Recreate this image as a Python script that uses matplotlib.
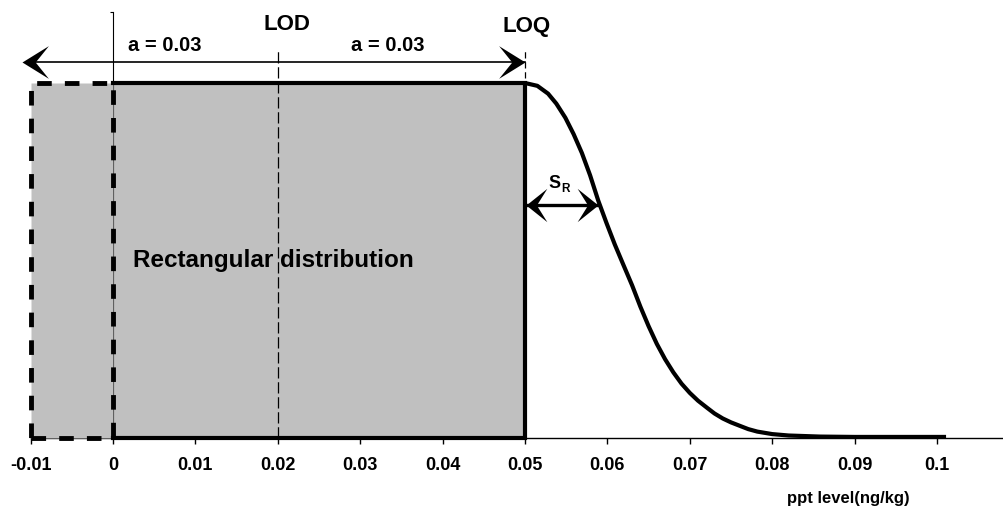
import matplotlib
matplotlib.use("Agg")
import matplotlib.pyplot as plt
from matplotlib.path import Path
from matplotlib.patches import Rectangle

# ---------------- data ----------------
x_ticks = [-0.01, 0.0, 0.01, 0.02, 0.03, 0.04, 0.05, 0.06, 0.07, 0.08, 0.09, 0.1]
x_tick_labels = ["-0.01", "0", "0.01", "0.02", "0.03", "0.04", "0.05",
                 "0.06", "0.07", "0.08", "0.09", "0.1"]
lod = 0.02          # limit of detection
a = 0.03            # half-width of rectangular distribution
loq = lod + a       # limit of quantification (0.05)
rect_height = 1.0

# decreasing curve beyond LOQ
curve_x = [0.0500, 0.0515, 0.0528, 0.0538, 0.0549, 0.0559, 0.0569, 0.0579,
           0.0589, 0.0599, 0.0609, 0.0619, 0.0630, 0.0640, 0.0650, 0.0660,
           0.0670, 0.0680, 0.0690, 0.0700, 0.0710, 0.0721, 0.0730, 0.0740,
           0.0750, 0.0761, 0.0771, 0.0782, 0.0800, 0.0820, 0.0858, 0.0900,
           0.0950, 0.1011]
curve_y = [1.000, 0.992, 0.970, 0.942, 0.902, 0.856, 0.803, 0.740,
           0.668, 0.605, 0.545, 0.490, 0.430, 0.370, 0.315, 0.265,
           0.222, 0.185, 0.153, 0.127, 0.105, 0.085, 0.069, 0.055,
           0.044, 0.034, 0.025, 0.018, 0.011, 0.007, 0.004, 0.003,
           0.003, 0.003]

sr_end_x = 0.0589
sr_level = 0.656
arrow_level = 1.059

# ---------------- style ----------------
plt.rcParams['font.family'] = ['Liberation Sans', 'DejaVu Sans']
plt.rcParams['font.weight'] = 'bold'
gray = '#c0c0c0'

fig = plt.figure(figsize=(10.04, 5.08), dpi=100)
ax = fig.add_axes([0.0, 70 / 508, 1.0, 1.2 * 355 / 508])
ax.set_xlim(-113 / 8240, 891 / 8240)
ax.set_ylim(0, 1.2)


def head(direction, half_w, notch):
    s = 1 if direction > 0 else -1
    verts = [(0, 0), (-s * 1.0, half_w), (-s * notch, 0), (-s * 1.0, -half_w), (0, 0)]
    codes = [Path.MOVETO, Path.LINETO, Path.LINETO, Path.LINETO, Path.CLOSEPOLY]
    return Path(verts, codes)


# dashed rectangle (left part)
ax.add_patch(Rectangle((lod - a, 0), 0 - (lod - a), rect_height,
                       facecolor=gray, edgecolor='black', lw=3.5,
                       linestyle=(0, (3.0, 2.7)), zorder=3, clip_on=False))
# solid rectangle fill
ax.add_patch(Rectangle((0, 0), loq, rect_height, facecolor=gray,
                       edgecolor='none', zorder=1))
# LOD dashed line
ax.plot([lod, lod], [0, 1.093], color='black', lw=0.9,
        linestyle=(0, (9, 3)), zorder=2, clip_on=False)
# LOQ dashed line
ax.plot([loq, loq], [0, 1.093], color='black', lw=0.9,
        linestyle=(0, (5, 3)), zorder=2, clip_on=False)
# solid outline
ax.plot([0, loq, loq, 0], [0, 0, rect_height, rect_height], color='black',
        lw=3.0, solid_joinstyle='miter', zorder=4, clip_on=False)
# curve
ax.plot(curve_x, curve_y, color='black', lw=3.0, zorder=4,
        solid_capstyle='butt', clip_on=False)

# top double arrow
ax.plot([lod - a, loq], [arrow_level, arrow_level], color='black', lw=1.2,
        zorder=5, clip_on=False)
ax.plot([lod - a - 0.0010], [arrow_level], marker=head(-1, 0.62, 0.5), ms=38,
        color='black', mew=0, zorder=6, clip_on=False)
ax.plot([loq], [arrow_level], marker=head(1, 0.62, 0.5), ms=38,
        color='black', mew=0, zorder=6, clip_on=False)

# S_R arrow
ax.plot([loq, sr_end_x], [sr_level, sr_level], color='black', lw=2.4,
        zorder=5, clip_on=False)
ax.plot([loq + 0.0001], [sr_level], marker=head(-1, 0.8, 0.5), ms=30,
        color='black', mew=0, zorder=6, clip_on=False)
ax.plot([sr_end_x], [sr_level], marker=head(1, 0.8, 0.5), ms=30,
        color='black', mew=0, zorder=6, clip_on=False)

# texts
ax.text(0.0211, 1.165, "LOD", ha='center', va='center', fontsize=16)
ax.text(0.0502, 1.159, "LOQ", ha='center', va='center', fontsize=16)
ax.text(0.0063, 1.106, "a = 0.03", ha='center', va='center', fontsize=14.5)
ax.text(0.0334, 1.106, "a = 0.03", ha='center', va='center', fontsize=14.5)
ax.text(0.0024, 0.501, "Rectangular distribution", ha='left', va='center',
        fontsize=17.5, zorder=7)
ax.text(0.0536, 0.716, "S", ha='center', va='center', fontsize=13)
ax.text(0.0549, 0.702, "R", ha='center', va='center', fontsize=8.5)

fig.text(848 / 1004, 1 - 499 / 508, "ppt level(ng/kg)", ha='center',
         va='center', fontsize=12)

# axes styling
ax.set_xticks(x_ticks, x_tick_labels)
ax.set_yticks([1.2], [""])
ax.tick_params(axis='x', direction='out', length=4, width=1, pad=10,
               labelsize=13)
ax.tick_params(axis='y', direction='out', length=2.5, width=0.8)
for s in ['top', 'right']:
    ax.spines[s].set_visible(False)
ax.spines['left'].set_position(('data', 0))
ax.spines['left'].set_bounds(0, 1.2)
ax.spines['left'].set_linewidth(0.8)
ax.spines['left'].set_zorder(2)
ax.spines['bottom'].set_bounds(lod - a, 891 / 8240)
ax.spines['bottom'].set_linewidth(1.0)
ax.patch.set_alpha(0)

fig.savefig("out.png", dpi=100)
